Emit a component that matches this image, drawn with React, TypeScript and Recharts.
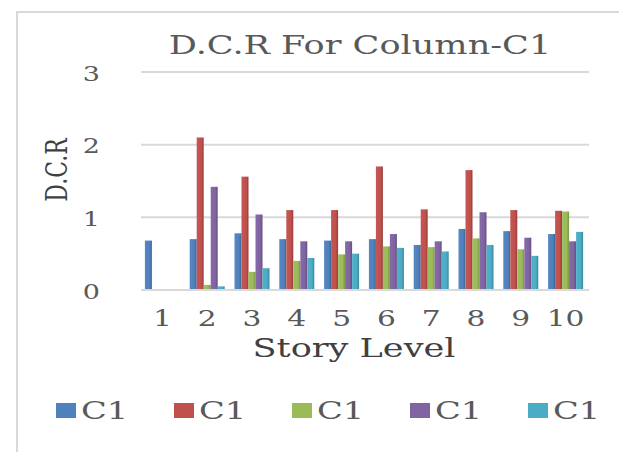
import React from "react";
import { Bar, BarChart, CartesianGrid, Legend, XAxis, YAxis } from "recharts";

const storyLevels = ["1", "2", "3", "4", "5", "6", "7", "8", "9", "10"];
const seriesA = [0.68, 0.7, 0.78, 0.7, 0.68, 0.7, 0.62, 0.84, 0.81, 0.77];
const seriesB = [0.01, 2.1, 1.56, 1.1, 1.1, 1.7, 1.11, 1.65, 1.1, 1.09];
const seriesC = [0.01, 0.07, 0.25, 0.4, 0.49, 0.6, 0.59, 0.71, 0.56, 1.08];
const seriesD = [0.01, 1.42, 1.04, 0.67, 0.67, 0.77, 0.67, 1.07, 0.72, 0.67];
const seriesE = [0.01, 0.05, 0.3, 0.44, 0.5, 0.58, 0.53, 0.62, 0.47, 0.8];
const yTicks = [0, 1, 2, 3];

const SERIES = [
  { key: "a", name: "C1", color: "#4f81bd", values: seriesA },
  { key: "b", name: "C1", color: "#c0504d", values: seriesB },
  { key: "c", name: "C1", color: "#9bbb59", values: seriesC },
  { key: "d", name: "C1", color: "#8064a2", values: seriesD },
  { key: "e", name: "C1", color: "#4bacc6", values: seriesE },
];

const data = storyLevels.map((level, i) => {
  const row: Record<string, string | number> = { level };
  SERIES.forEach((s) => {
    row[s.key] = s.values[i];
  });
  return row;
});

// mix a hex colour toward white (amt > 0) or black (amt < 0)
function shade(hex: string, amt: number) {
  const n = parseInt(hex.slice(1), 16);
  const ch = [(n >> 16) & 255, (n >> 8) & 255, n & 255].map((c) =>
    Math.round(amt >= 0 ? c + (255 - c) * amt : c * (1 + amt))
  );
  return "#" + ch.map((c) => c.toString(16).padStart(2, "0")).join("");
}

const FONT = "'DejaVu Serif', serif";
const TEXT = "#595959";
const SX = 1.35;

function Stretched({
  x,
  y,
  size,
  anchor = "middle",
  rotate = 0,
  color = TEXT,
  children,
}: {
  x: number;
  y: number;
  size: number;
  anchor?: "start" | "middle" | "end";
  rotate?: number;
  color?: string;
  children: React.ReactNode;
}) {
  return (
    <g transform={`translate(${x},${y}) scale(${SX},1) rotate(${rotate})`}>
      <text
        x={0}
        y={0}
        textAnchor={anchor}
        dominantBaseline="central"
        fontSize={size}
        fontFamily={FONT}
        fill={color}
      >
        {children}
      </text>
    </g>
  );
}

const XTick = (props: any) => (
  <Stretched x={props.x - 1} y={props.y + 20} size={22}>
    {props.payload.value}
  </Stretched>
);

const YTick = (props: any) => (
  <Stretched x={props.x} y={props.y + 2} size={20} anchor="end">
    {props.payload.value}
  </Stretched>
);

const XLabel = (props: any) => {
  const vb = props.viewBox;
  return (
    <Stretched x={vb.x + vb.width / 2 - 11} y={vb.y + 58} size={26} color="#404040">
      Story Level
    </Stretched>
  );
};

const YLabel = (props: any) => {
  const vb = props.viewBox;
  return (
    <Stretched x={57} y={vb.y + vb.height / 2 - 11} size={22} rotate={-90} color="#404040">
      D.C.R
    </Stretched>
  );
};

const LegendRow = (props: any) => (
  <div style={{ position: "relative", width: 619, height: 30 }}>
    {(props.payload || []).map((entry: any, i: number) => (
      <div
        key={entry.dataKey}
        style={{ position: "absolute", left: 56 + i * 118, top: 0, height: 30, display: "flex", alignItems: "center" }}
      >
        <span style={{ width: 20, height: 15, background: SERIES[i].color, display: "inline-block" }} />
        <svg width={60} height={30} style={{ display: "block" }}>
          <Stretched x={5} y={15} size={25} anchor="start">
            {entry.value}
          </Stretched>
        </svg>
      </div>
    ))}
  </div>
);

export default function App() {
  return (
    <div style={{ position: "absolute", left: 0, top: 0, width: 619, height: 452, background: "#fff", overflow: "hidden" }}>
      <div
        style={{
          position: "absolute",
          left: 16,
          top: 11,
          width: 640,
          height: 460,
          borderLeft: "2px solid #d9d9d9",
          borderTop: "2px solid #d9d9d9",
        }}
      />
      <svg width={619} height={70} style={{ position: "absolute", left: 0, top: 0 }}>
        <Stretched x={360} y={45} size={26}>
          D.C.R For Column-C1
        </Stretched>
      </svg>
      <BarChart
        width={619}
        height={452}
        data={data}
        margin={{ top: 72, right: 30, left: 0, bottom: 102 }}
        barCategoryGap="8.7%"
        barGap={0}
        style={{ position: "absolute", left: 0, top: 0 }}
      >
        <defs>
          {SERIES.map((s) => (
            <linearGradient key={s.key} id={`grad-${s.key}`} x1="0" y1="0" x2="1" y2="0">
              <stop offset="0%" stopColor={shade(s.color, 0.04)} />
              <stop offset="65%" stopColor={s.color} />
              <stop offset="100%" stopColor={shade(s.color, -0.22)} />
            </linearGradient>
          ))}
        </defs>
        <CartesianGrid vertical={false} stroke="#d9d9d9" strokeWidth={2} />
        <XAxis
          dataKey="level"
          height={60}
          axisLine={{ stroke: "#d9d9d9", strokeWidth: 2 }}
          tickLine={false}
          tick={<XTick />}
          interval={0}
          label={<XLabel />}
        />
        <YAxis
          width={141}
          domain={[0, 3]}
          ticks={yTicks}
          axisLine={false}
          tickLine={false}
          tickSize={0}
          tickMargin={41}
          tick={<YTick />}
          label={<YLabel />}
        />
        <Legend
          layout="horizontal"
          verticalAlign="middle"
          wrapperStyle={{ position: "absolute", left: 0, top: 395, width: 619 }}
          content={<LegendRow />}
        />
        {SERIES.map((s) => (
          <Bar key={s.key} dataKey={s.key} name={s.name} fill={`url(#grad-${s.key})`} isAnimationActive={false} />
        ))}
      </BarChart>
    </div>
  );
}
